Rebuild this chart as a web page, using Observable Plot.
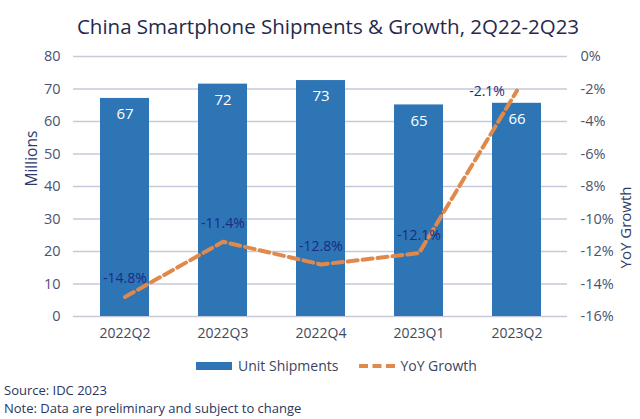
<!DOCTYPE html>
<html>
<head>
<meta charset="utf-8">
<script src="https://cdn.jsdelivr.net/npm/d3@7"></script>
<script src="https://cdn.jsdelivr.net/npm/@observablehq/plot@0.6"></script>
<style>
  html, body { margin: 0; padding: 0; background: #fff; }
  body { width: 640px; height: 419px; position: relative; overflow: hidden; font-family: "Open Sans", sans-serif; }
  #title { position: absolute; left: 0; top: 12px; width: 656px; text-align: center; font-size: 20.5px; color: #1f2a4d; white-space: nowrap; }
  #chart { position: absolute; left: 0; top: 44px; }
  #legend { position: absolute; left: 196px; top: 356px; display: flex; align-items: center; font-size: 14px; color: #3a4560; white-space: nowrap; }
  #legend .item { display: flex; align-items: center; }
  #source { position: absolute; left: 4px; top: 381px; font-size: 13px; line-height: 18px; color: #2a3660; white-space: nowrap; }
</style>
</head>
<body>
<div id="title">China Smartphone Shipments &amp; Growth, 2Q22-2Q23</div>
<div id="chart"></div>
<div id="legend">
  <div class="item"><svg width="36" height="10"><rect x="0" y="1" width="36" height="8" fill="#2e75b6"></rect></svg><span style="margin-left:6px">Unit Shipments</span></div>
  <div class="item" style="margin-left:20px"><svg width="38" height="10"><line x1="1" y1="5" x2="37" y2="5" stroke="#e0894a" stroke-width="4" stroke-dasharray="9,4.5"></line></svg><span style="margin-left:4px">YoY Growth</span></div>
</div>
<div id="source">Source: IDC 2023<br>Note: Data are preliminary and subject to change</div>
<script>
const quarters = ["2022Q2", "2022Q3", "2022Q4", "2023Q1", "2023Q2"];
const shipments = [67.1, 71.5, 72.6, 65.1, 65.6];
const yoyGrowth = [-14.8, -11.4, -12.8, -12.1, -2.1];
const leftTicks = [0, 10, 20, 30, 40, 50, 60, 70, 80];
const rightTickLabels = ["-16%", "-14%", "-12%", "-10%", "-8%", "-6%", "-4%", "-2%", "0%"];

// right axis: -16%..0% mapped onto the 0..80 left scale
const toLeft = v => (v + 16) * 5;

const bars = quarters.map((q, i) => ({ q, value: shipments[i], label: String(Math.round(shipments[i])) }));
const line = quarters.map((q, i) => ({ q, yoy: yoyGrowth[i], y: toLeft(yoyGrowth[i]), label: yoyGrowth[i].toFixed(1) + "%" }));

const chart = Plot.plot({
  width: 640,
  height: 302,
  marginLeft: 73,
  marginRight: 73,
  marginTop: 12,
  marginBottom: 30,
  style: { fontFamily: "Open Sans, sans-serif", fontSize: "14px", background: "transparent", overflow: "visible" },
  x: { domain: quarters, paddingInner: 0.5, paddingOuter: 0.25, label: null },
  y: { domain: [0, 80], label: null },
  marks: [
    Plot.gridY(leftTicks, { stroke: "#c8c9da", strokeOpacity: 1, strokeWidth: 1.3 }),
    Plot.barY(bars, { x: "q", y: "value", fill: "#2e75b6" }),
    Plot.text(bars, { x: "q", y: "value", text: "label", dy: 16, fill: "#ffffff", fontSize: 15 }),
    Plot.line(line, { x: "q", y: "y", stroke: "#e0894a", strokeWidth: 4, strokeDasharray: "10,5", strokeLinecap: "round", curve: "linear" }),
    Plot.text(line.slice(0, 4), { x: "q", y: "y", text: "label", dy: -18, fill: "#1d2a84", fontSize: 14 }),
    Plot.text(line.slice(4), { x: "q", y: "y", text: "label", dx: -30, dy: 1, fill: "#1d2a84", fontSize: 14 }),
    Plot.axisX({ tickSize: 0, tickPadding: 12, fill: "#3e4860", fontSize: 14, label: null }),
    Plot.axisY(leftTicks, { anchor: "left", tickSize: 0, tickPadding: 13, fill: "#4a5470", fontSize: 14.5, label: null }),
    Plot.axisY(leftTicks, { anchor: "right", tickSize: 0, tickPadding: 13, fill: "#4a5470", fontSize: 14.5,
      tickFormat: d => rightTickLabels[leftTicks.indexOf(d)], label: null }),
    Plot.text(["Millions"], { frameAnchor: "left", dx: -41, rotate: -90, fill: "#2f3b66", fontSize: 15.5 }),
    Plot.text(["YoY Growth"], { frameAnchor: "right", dx: 59, rotate: -90, fill: "#2f3b66", fontSize: 15 })
  ]
});
document.getElementById("chart").appendChild(chart);
</script>
</body>
</html>
